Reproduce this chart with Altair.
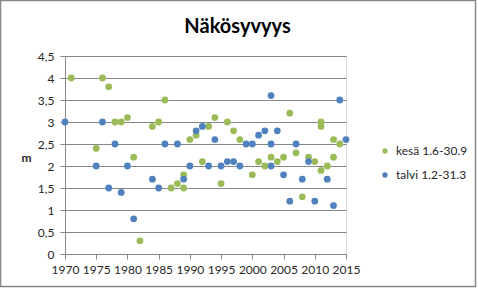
import altair as alt
import pandas as pd

series_names = ["kesä 1.6-30.9", "talvi 1.2-31.3"]
series_colors = ["#9BBB59", "#4F81BD"]

kesa_years = [1971, 1975, 1976, 1977, 1978, 1979, 1980, 1981, 1982, 1984,
              1985, 1986, 1987, 1988, 1989, 1989, 1990, 1991, 1992, 1993,
              1994, 1995, 1996, 1997, 1998, 2000, 2001, 2002, 2003, 2004,
              2005, 2006, 2007, 2008, 2009, 2010, 2011, 2011, 2011, 2012,
              2013, 2013, 2014]
kesa_values = [4.0, 2.4, 4.0, 3.8, 3.0, 3.0, 3.1, 2.2, 0.3, 2.9,
               3.0, 3.5, 1.5, 1.6, 1.8, 1.5, 2.6, 2.7, 2.1, 2.9,
               3.1, 1.6, 3.0, 2.8, 2.6, 1.8, 2.1, 2.0, 2.2, 2.1,
               2.2, 3.2, 2.3, 1.3, 2.2, 2.1, 3.0, 2.9, 1.9, 2.0,
               2.6, 2.2, 2.5]

talvi_years = [1970, 1975, 1976, 1977, 1978, 1979, 1980, 1981, 1984, 1985,
               1986, 1988, 1989, 1990, 1991, 1992, 1993, 1994, 1995, 1996,
               1997, 1998, 1999, 2000, 2001, 2002, 2003, 2003, 2003, 2004,
               2005, 2006, 2007, 2008, 2009, 2010, 2012, 2013, 2014, 2015]
talvi_values = [3.0, 2.0, 3.0, 1.5, 2.5, 1.4, 2.0, 0.8, 1.7, 1.5,
                2.5, 2.5, 1.7, 2.0, 2.8, 2.9, 2.0, 2.6, 2.0, 2.1,
                2.1, 2.0, 2.5, 2.5, 2.7, 2.8, 3.6, 2.5, 2.0, 2.8,
                1.8, 1.2, 2.5, 1.7, 2.1, 1.2, 1.7, 1.1, 3.5, 2.6]

x_ticks = [1970, 1975, 1980, 1985, 1990, 1995, 2000, 2005, 2010, 2015]
y_ticks = [0, 0.5, 1, 1.5, 2, 2.5, 3, 3.5, 4, 4.5]

df = pd.DataFrame({
    "year": kesa_years + talvi_years,
    "value": kesa_values + talvi_values,
    "series": [series_names[0]] * len(kesa_years) + [series_names[1]] * len(talvi_years),
})

GRAY = "#868686"
FONT = "Lato"

points = alt.Chart(df).mark_circle(size=46, opacity=1).encode(
    x=alt.X("year:Q",
            scale=alt.Scale(domain=[1970, 2015], nice=False, zero=False),
            axis=alt.Axis(values=x_ticks, format="d", title=None, grid=False,
                          labelOverlap=False, labelFlush=False,
                          domainColor=GRAY, tickColor=GRAY, tickSize=5,
                          labelPadding=5, labelFont=FONT, labelFontSize=12,
                          labelColor="#262626")),
    y=alt.Y("value:Q",
            scale=alt.Scale(domain=[0, 4.5], nice=False),
            axis=alt.Axis(values=y_ticks,
                          labelExpr="replace(toString(datum.value), '.', ',')",
                          labelOverlap=False, labelFlush=False,
                          title="m", titleAngle=0, titleAlign="center",
                          titleBaseline="middle", titleX=-39, titleY=101,
                          titleFont=FONT, titleFontSize=12, titleFontWeight="bold",
                          titleColor="#262626",
                          grid=True, gridColor=GRAY, domainColor=GRAY,
                          tickColor=GRAY, tickSize=5, labelPadding=6,
                          labelFont=FONT, labelFontSize=12, labelColor="#262626")),
    color=alt.Color("series:N",
                    scale=alt.Scale(domain=series_names, range=series_colors),
                    legend=alt.Legend(title=None, orient="none", legendX=314,
                                      legendY=89, symbolType="circle",
                                      symbolSize=28, symbolStrokeWidth=0,
                                      labelFont=FONT, labelFontSize=12,
                                      labelColor="#262626", rowPadding=12,
                                      labelOffset=5)),
)

border = alt.Chart(pd.DataFrame({"a": [0]})).mark_rect(
    fill="transparent", stroke=GRAY, strokeWidth=1.5
).encode(
    x=alt.value(-64.5), x2=alt.value(410.5),
    y=alt.value(-55.5), y2=alt.value(230.5),
)

chart = alt.layer(border, points).properties(
    width=281, height=198,
    title=alt.TitleParams("Näkösyvyys", font=FONT, fontSize=20,
                          fontWeight="bold", anchor="middle", frame="group",
                          dx=32, offset=-37, color="black"),
    autosize=alt.AutoSizeParams(type="none"),
    padding={"left": 65, "top": 56, "right": 132, "bottom": 35},
).configure_view(stroke=None).configure(background="white")

chart.save("out.html", embed_options={"renderer": "svg", "actions": False})
